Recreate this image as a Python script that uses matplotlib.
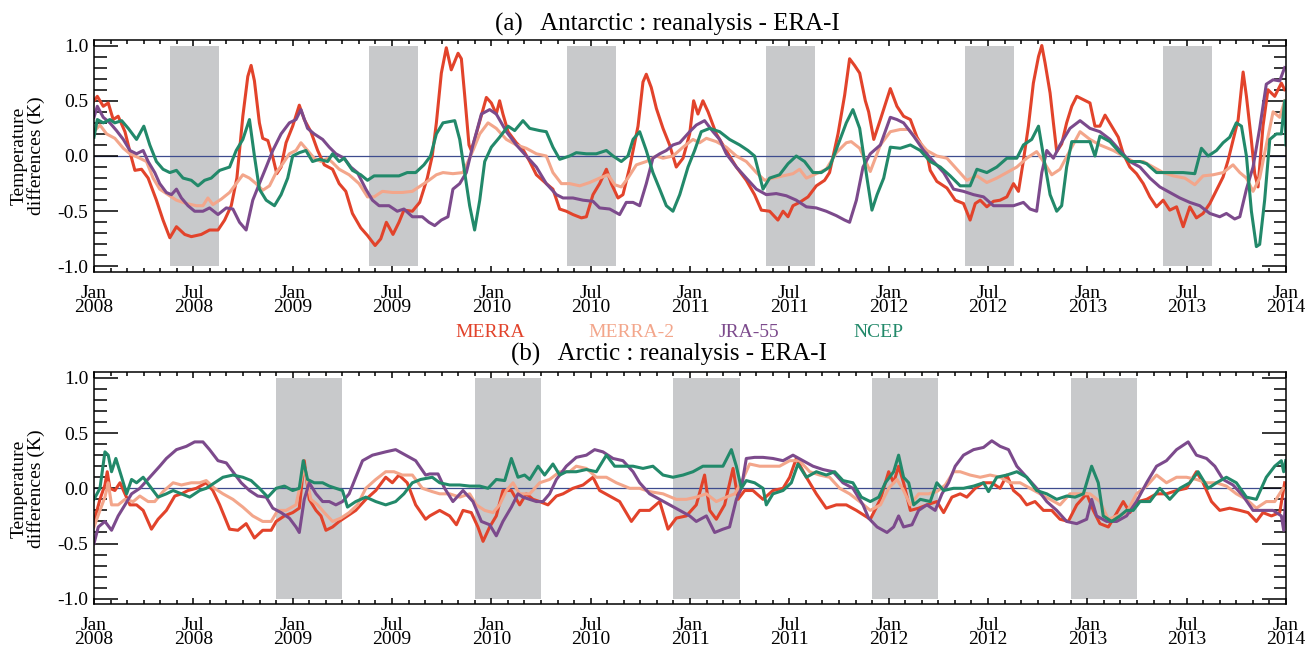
import numpy as np
import matplotlib
matplotlib.use('Agg')
import matplotlib.pyplot as plt
from matplotlib.ticker import MultipleLocator, FixedLocator, FixedFormatter

plt.rcParams['font.family'] = ['Liberation Serif', 'DejaVu Serif']
plt.rcParams['axes.unicode_minus'] = False

# ---------------- data (time in months since Jan 2008) ----------------
# Panel (a) Antarctic
a_merra_m = [0.0, 0.2, 0.56, 0.86, 1.16, 1.46, 1.87, 2.27, 2.47, 2.87, 3.27, 3.77, 4.17, 4.58, 4.98, 5.48, 5.88, 6.48, 6.98, 7.49,
             7.89, 8.29, 8.63, 8.99, 9.29, 9.49, 9.69, 9.99, 10.19, 10.5, 10.8, 11.04, 11.3, 11.6, 12.0, 12.4, 12.7, 13.1, 13.51, 13.91,
             14.41, 14.81, 15.21, 15.61, 16.11, 16.52, 16.98, 17.32, 17.66, 18.06, 18.42, 18.72, 19.23, 19.67, 20.13, 20.43,
             20.68, 20.98, 21.28, 21.58, 21.99, 22.19, 22.39, 22.65, 22.79, 23.09, 23.7, 24.0, 24.3, 24.5, 24.7, 25.01, 25.51, 25.91,
             26.32, 26.72, 27.32, 27.72, 28.13, 28.53, 28.93, 29.44, 29.74, 30.14, 30.54, 30.95, 31.25, 31.65, 31.95, 32.36, 32.86,
             33.16, 33.36, 33.66, 33.97, 34.37, 34.77, 35.17, 35.58, 35.98, 36.22, 36.48, 36.78, 37.09, 37.59, 37.99, 38.39, 38.8,
             39.4, 39.9, 40.31, 40.81, 41.31, 41.62, 41.92, 42.22, 42.62, 43.13, 43.63, 44.13, 44.43, 44.94, 45.34, 45.64, 45.94,
             46.25, 46.59, 46.79, 47.1, 47.5, 48.1, 48.5, 48.9, 49.31, 49.71, 50.31, 50.51, 50.91, 51.52, 52.02, 52.52, 52.92, 53.23,
             53.53, 53.93, 54.33, 54.73, 55.14, 55.54, 55.84, 56.14, 56.44, 56.74, 57.05, 57.25, 57.45, 57.75, 57.95, 58.15, 58.45,
             58.75, 59.06, 59.36, 59.76, 60.16, 60.46, 60.76, 61.07, 61.47, 61.87, 62.17, 62.57, 62.97, 63.38, 63.78, 64.18, 64.58,
             64.98, 65.39, 65.79, 66.19, 66.59, 66.99, 67.4, 67.8, 68.2, 68.5, 68.8, 69.11, 69.41, 69.61, 69.91, 70.11, 70.31, 70.61,
             70.91, 71.32, 71.72, 71.92]
a_merra_v = [0.50, 0.54, 0.45, 0.48, 0.33, 0.36, 0.22, -0.02, -0.13, -0.12, -0.20, -0.40, -0.58, -0.74, -0.64, -0.71, -0.73, -0.71, -0.67, -0.67,
             -0.58, -0.45, -0.20, 0.36, 0.72, 0.82, 0.68, 0.30, 0.16, 0.14, -0.01, -0.16, -0.10, 0.12, 0.27, 0.46, 0.33, 0.22, 0.05, -0.08,
             -0.12, -0.25, -0.32, -0.52, -0.65, -0.72, -0.81, -0.75, -0.60, -0.71, -0.60, -0.49, -0.50, -0.42, -0.20, 0.0,
             0.30, 0.75, 0.98, 0.78, 0.93, 0.88, 0.55, 0.10, 0.05, 0.20, 0.53, 0.48, 0.38, 0.50, 0.38, 0.22, 0.12, 0.06,
             -0.05, -0.17, -0.25, -0.30, -0.48, -0.50, -0.53, -0.56, -0.55, -0.35, -0.25, -0.12, -0.25, -0.38, -0.35, -0.10, 0.27,
             0.67, 0.74, 0.62, 0.43, 0.25, 0.10, -0.10, -0.02, 0.20, 0.50, 0.38, 0.50, 0.40, 0.20, 0.10, 0.00, -0.10,
             -0.22, -0.35, -0.49, -0.50, -0.58, -0.50, -0.55, -0.45, -0.42, -0.37, -0.27, -0.22, -0.15, 0.20, 0.55, 0.88, 0.82,
             0.75, 0.50, 0.40, 0.15, 0.33, 0.61, 0.45, 0.36, 0.33, 0.17, 0.02, -0.13, -0.23, -0.29, -0.40, -0.43, -0.58, -0.43,
             -0.40, -0.46, -0.41, -0.40, -0.37, -0.25, -0.32, -0.04, 0.27, 0.66, 0.90, 1.00, 0.84, 0.57, 0.30, 0.04, 0.11,
             0.30, 0.45, 0.54, 0.51, 0.48, 0.27, 0.27, 0.37, 0.27, 0.17, 0.02, -0.10, -0.16, -0.25, -0.37, -0.46, -0.40,
             -0.49, -0.46, -0.64, -0.46, -0.56, -0.52, -0.43, -0.31, -0.19, -0.04, 0.14, 0.33, 0.76, 0.54, 0.14, -0.16, -0.28, 0.27,
             0.60, 0.54, 0.66, 0.60]

a_merra2_m = [0.0, 0.36, 0.76, 1.26, 1.77, 2.17, 2.77, 3.17, 3.57, 3.97, 4.48, 4.98, 5.58, 6.18, 6.58, 6.88, 7.18, 7.69, 8.19, 8.59,
              8.99, 9.39, 9.79, 10.19, 10.6, 11.0, 11.4, 11.8, 12.2, 12.5, 12.9, 13.3, 13.71, 14.11, 14.41, 14.81, 15.41, 16.01,
              16.52, 16.92, 17.42, 18.02, 18.62, 19.23, 19.73, 20.23,
              20.68, 21.08, 21.68, 22.29, 22.89, 23.3, 23.8, 24.3, 24.91, 25.51, 26.11, 26.72, 27.32, 27.72, 28.23, 28.73, 29.34,
              29.94, 30.54, 31.05, 31.45, 31.85, 32.25, 32.76, 33.36, 33.97, 34.37, 34.97, 35.58, 36.18, 36.58, 36.99, 37.59, 38.19,
              38.8, 39.4, 40.01, 40.51, 41.01, 41.62, 42.22, 42.62, 43.03, 43.63, 44.23, 44.84, 45.44, 45.74, 46.25,
              46.89, 47.5, 48.1, 48.7, 49.21, 49.71, 50.31, 50.91, 51.52, 52.12, 52.72, 53.33, 53.93, 54.53, 55.14, 55.74, 56.34,
              56.94, 57.35, 57.85, 58.35, 58.95, 59.56, 60.16, 60.76, 61.57, 62.17, 62.77, 63.38, 63.98, 64.58, 65.19, 65.89, 66.49,
              66.99, 67.6, 68.2, 68.8, 69.21, 69.61, 70.01, 70.41, 70.81, 71.22, 71.62, 71.92]
a_merra2_v = [0.22, 0.28, 0.20, 0.16, 0.07, 0.02, -0.02, -0.05, -0.20, -0.30, -0.35, -0.40, -0.43, -0.45, -0.45, -0.38, -0.44, -0.39, -0.33, -0.25,
              -0.17, -0.20, -0.25, -0.31, -0.27, -0.15, -0.07, 0.02, 0.05, 0.12, 0.05, -0.02, -0.05, -0.02, -0.06, -0.12, -0.17, -0.25,
              -0.37, -0.37, -0.32, -0.33, -0.33, -0.32, -0.27, -0.22,
              -0.17, -0.15, -0.16, -0.15, 0.05, 0.20, 0.30, 0.25, 0.15, 0.10, 0.07, 0.02, 0.00, -0.15, -0.25, -0.25, -0.27,
              -0.24, -0.20, -0.17, -0.26, -0.28, -0.20, -0.08, -0.05, 0.00, -0.02, 0.00, 0.08, 0.15, 0.12, 0.16, 0.13, 0.08,
              0.00, -0.05, -0.15, -0.22, -0.20, -0.18, -0.16, -0.12, -0.20, -0.16, -0.12, 0.03, 0.12, 0.13, 0.07,
              -0.14, 0.10, 0.22, 0.24, 0.24, 0.15, 0.05, 0.00, -0.02, -0.12, -0.22, -0.18, -0.24, -0.20, -0.15, -0.10, -0.02,
              0.04, -0.05, -0.17, -0.12, 0.05, 0.22, 0.15, 0.10, 0.05, 0.00, -0.05, -0.05, -0.10, -0.15, -0.18, -0.20, -0.26,
              -0.18, -0.17, -0.15, -0.08, -0.15, -0.20, -0.32, -0.20, 0.10, 0.40, 0.35, 0.50]

a_jra_m = [0.0, 0.2, 0.56, 0.96, 1.36, 1.77, 2.17, 2.57, 2.97, 3.27, 3.67, 3.97, 4.37, 4.68, 4.98, 5.28, 5.68, 6.08, 6.58, 6.98,
           7.49, 7.99, 8.39, 8.79, 9.19, 9.59, 9.99, 10.4, 10.8, 11.3, 11.8, 12.2, 12.5, 12.9, 13.3, 13.81, 14.21, 14.61, 15.11,
           15.51, 15.91, 16.42, 16.82, 17.22, 17.82, 18.32, 18.72, 19.23, 19.83, 20.23,
           20.58, 20.98, 21.38, 21.68, 22.09, 22.49, 22.89, 23.4, 23.9, 24.3, 24.91, 25.51, 26.11, 26.72, 27.32, 27.93, 28.33,
           28.93, 29.54, 30.14, 30.54, 31.15, 31.75, 32.15, 32.56, 32.96, 33.36, 33.76, 34.17, 34.57, 34.97, 35.38, 35.98, 36.38,
           36.88, 37.39, 37.79, 38.19, 38.8, 39.4, 40.01, 40.61, 41.21, 41.82, 42.42, 43.03, 43.63, 44.23, 44.84, 45.34, 45.64,
           46.05, 46.45,
           46.89, 47.5, 48.1, 48.5, 48.9, 49.51, 50.11, 50.71, 51.32, 51.92, 52.52, 53.13, 53.73, 54.33, 54.93, 55.54, 56.14,
           56.54, 56.94, 57.25, 57.55, 57.95, 58.35, 58.95, 59.56, 60.16, 60.76, 61.37, 61.97, 62.57, 63.18, 63.78, 64.38, 64.98,
           65.59, 66.19, 66.79, 67.4, 68.0, 68.4, 68.9, 69.21, 69.61, 70.01, 70.41, 70.81, 71.22, 71.62, 71.92]
a_jra_v = [0.35, 0.45, 0.35, 0.30, 0.23, 0.15, 0.05, 0.02, 0.05, -0.05, -0.15, -0.25, -0.33, -0.35, -0.30, -0.38, -0.45, -0.50, -0.50, -0.47,
           -0.53, -0.47, -0.48, -0.60, -0.67, -0.40, -0.25, -0.10, 0.05, 0.20, 0.30, 0.33, 0.42, 0.25, 0.20, 0.15, 0.08, 0.02, -0.02,
           -0.10, -0.15, -0.30, -0.40, -0.45, -0.45, -0.50, -0.48, -0.55, -0.55, -0.60,
           -0.63, -0.58, -0.55, -0.30, -0.25, -0.15, 0.10, 0.38, 0.42, 0.38, 0.22, 0.10, 0.00, -0.10, -0.25, -0.35, -0.38,
           -0.38, -0.40, -0.41, -0.47, -0.48, -0.53, -0.42, -0.42, -0.45, -0.25, -0.02, 0.02, 0.05, 0.10, 0.12, 0.22, 0.28,
           0.32, 0.22, 0.15, 0.02, -0.10, -0.20, -0.30, -0.35, -0.34, -0.36, -0.40, -0.46, -0.47, -0.50, -0.54, -0.58, -0.60,
           -0.40, -0.10,
           0.02, 0.10, 0.35, 0.33, 0.30, 0.18, 0.05, -0.05, -0.15, -0.30, -0.32, -0.35, -0.37, -0.45, -0.45, -0.45, -0.42,
           -0.48, -0.50, -0.15, 0.05, -0.02, 0.10, 0.25, 0.32, 0.25, 0.22, 0.15, 0.05, -0.05, -0.10, -0.20, -0.28, -0.33,
           -0.38, -0.42, -0.45, -0.52, -0.55, -0.52, -0.57, -0.55, -0.30, -0.10, 0.25, 0.65, 0.69, 0.68, 0.80]

a_ncep_m = [0.0, 0.2, 0.56, 0.96, 1.26, 1.67, 2.07, 2.57, 3.01, 3.37, 3.77, 4.17, 4.58, 4.98, 5.38, 5.88, 6.28, 6.68, 7.08, 7.59,
            8.19, 8.59, 8.99, 9.39, 9.69, 9.99, 10.4, 10.9, 11.3, 11.7, 12.0, 12.4, 12.8, 13.2, 13.61, 14.11, 14.41, 14.81, 15.11,
            15.61, 16.11, 16.52, 16.92, 17.42, 17.92, 18.42, 18.92, 19.43, 19.93, 20.33,
            20.68, 21.08, 21.79, 22.09, 22.39, 22.69, 22.99, 23.3, 23.6, 24.0, 24.5, 25.01, 25.41, 25.91, 26.32, 26.92, 27.32,
            27.72, 28.13, 28.73, 29.13, 29.74, 30.34, 30.95, 31.35, 31.85, 32.25, 32.56, 32.96, 33.36, 33.76, 34.17, 34.57, 34.97,
            35.38, 35.88, 36.28, 36.68, 37.19, 37.79, 38.39, 39.0, 39.5, 39.9, 40.41, 40.81, 41.41, 41.92, 42.42, 42.92, 43.43,
            43.93, 44.43, 44.94, 45.44, 45.84, 46.25,
            46.69, 46.99, 47.3, 47.7, 48.1, 48.7, 49.31, 49.91, 50.51, 51.12, 51.72, 52.32, 52.92, 53.33, 53.93, 54.53, 55.14,
            55.74, 56.14, 56.64, 57.05, 57.35, 57.75, 58.15, 58.45, 58.75, 59.06, 59.56, 60.16, 60.46, 60.76, 61.37, 61.97, 62.57,
            63.18, 63.58, 64.18, 64.58, 65.19, 65.79, 66.49, 66.89, 67.3, 67.8, 68.2, 68.6, 69.0, 69.31, 69.61, 69.91, 70.21,
            70.41, 70.71, 71.02, 71.42, 71.72, 71.92, 72.0]
a_ncep_v = [0.17, 0.33, 0.30, 0.33, 0.30, 0.32, 0.25, 0.15, 0.27, 0.10, -0.05, -0.12, -0.15, -0.13, -0.20, -0.22, -0.27, -0.22, -0.20, -0.13,
            -0.10, 0.05, 0.15, 0.33, 0.00, -0.30, -0.40, -0.45, -0.35, -0.20, 0.00, 0.03, 0.05, -0.05, -0.03, -0.05, 0.02, -0.05, -0.02,
            -0.13, -0.17, -0.22, -0.18, -0.18, -0.18, -0.18, -0.15, -0.15, -0.08, 0.00,
            0.20, 0.30, 0.32, 0.15, -0.15, -0.45, -0.67, -0.40, -0.05, 0.08, 0.17, 0.27, 0.23, 0.32, 0.25, 0.23, 0.22,
            0.08, -0.03, 0.00, 0.03, 0.02, 0.02, 0.05, 0.00, -0.05, 0.00, 0.15, 0.22, 0.05, -0.15, -0.30, -0.45, -0.50,
            -0.35, -0.10, 0.05, 0.22, 0.25, 0.22, 0.15, 0.10, 0.05, 0.00, -0.30, -0.20, -0.17, -0.07, 0.00, -0.05, -0.15,
            -0.15, -0.10, 0.10, 0.30, 0.42, 0.25,
            -0.20, -0.49, -0.35, -0.20, 0.08, 0.07, 0.10, 0.05, -0.05, -0.10, -0.18, -0.27, -0.27, -0.12, -0.15, -0.10, -0.02,
            -0.02, 0.10, 0.15, 0.27, 0.00, -0.35, -0.50, -0.45, -0.10, 0.13, 0.13, 0.13, 0.00, 0.18, 0.13, 0.03, -0.05,
            -0.05, -0.07, -0.15, -0.15, -0.15, -0.15, -0.16, 0.07, 0.00, 0.05, 0.12, 0.17, 0.30, 0.27, 0.00, -0.50, -0.82,
            -0.80, -0.40, 0.15, 0.20, 0.20, 0.50, 0.10]

# Panel (b) Arctic
b_merra_m = [0.0, 0.36, 0.66, 0.8, 0.96, 1.26, 1.57, 1.87, 2.17, 2.57, 2.97, 3.47, 3.87, 4.37, 4.88, 5.28, 5.68, 6.18, 6.78, 7.18,
             7.59, 8.19, 8.69, 9.19, 9.69, 10.19, 10.7, 11.0, 11.5, 12.0, 12.4, 12.7, 13.0, 13.41, 13.71, 14.01, 14.41, 14.81, 15.31,
             15.81, 16.42, 17.02, 17.62, 18.02, 18.42, 18.92, 19.43, 20.03,
             20.28, 20.88, 21.48, 21.89, 22.29, 22.79, 23.19, 23.5, 23.9, 24.3, 24.7, 25.21, 25.71, 26.11, 26.52, 26.92, 27.42,
             27.93, 28.33, 28.93, 29.54, 30.14, 30.54, 31.15, 31.75, 32.46, 32.96, 33.56, 34.17, 34.67, 35.17, 35.78, 36.38, 36.88,
             37.19, 37.59, 38.09, 38.6, 38.9, 39.3, 39.8, 40.41, 41.01, 41.62, 42.02, 42.42, 43.03, 43.63, 44.23, 44.84, 45.44,
             46.05,
             46.89, 47.5, 48.0, 48.3, 48.6, 48.9, 49.31, 49.81, 50.31, 50.91, 51.32, 51.82, 52.32, 52.72, 53.23, 53.73, 54.23,
             54.73, 55.14, 55.54, 55.94, 56.34, 56.84, 57.35, 57.85, 58.35, 58.85, 59.36, 59.96, 60.36, 60.76, 61.27, 61.67, 62.17,
             62.57, 63.08, 63.58, 64.18, 64.78, 65.39, 65.99, 66.59, 66.99, 67.5, 68.0, 68.6, 69.21, 69.71, 70.21, 70.61, 71.12,
             71.62, 71.92]
b_merra_v = [-0.30, -0.10, 0.03, 0.15, 0.00, -0.02, 0.05, -0.05, -0.15, -0.15, -0.20, -0.37, -0.28, -0.20, -0.07, -0.05, -0.02, 0.00, 0.05, -0.02,
             -0.15, -0.37, -0.38, -0.32, -0.45, -0.38, -0.38, -0.30, -0.25, -0.22, -0.18, 0.25, -0.10, -0.20, -0.25, -0.38, -0.35, -0.30, -0.25,
             -0.20, -0.10, -0.02, 0.10, 0.05, 0.12, 0.05, -0.15, -0.28,
             -0.25, -0.20, -0.25, -0.33, -0.20, -0.22, -0.35, -0.48, -0.35, -0.25, -0.02, -0.02, -0.15, -0.05, -0.10, -0.12, -0.15,
             -0.07, -0.05, 0.00, 0.03, 0.10, -0.02, -0.07, -0.12, -0.30, -0.20, -0.20, -0.12, -0.37, -0.27, -0.25, -0.15, 0.12,
             -0.20, -0.28, -0.15, 0.18, -0.10, -0.02, -0.02, -0.10, -0.02, 0.00, 0.10, 0.27, 0.10, -0.05, -0.18, -0.15, -0.15,
             -0.20,
             -0.28, -0.10, 0.15, 0.05, 0.20, 0.05, -0.20, -0.18, -0.15, -0.12, -0.22, -0.08, -0.05, -0.08, 0.00, 0.05, 0.05,
             0.00, 0.12, -0.02, -0.07, -0.15, -0.12, -0.20, -0.20, -0.28, -0.30, -0.15, -0.05, -0.20, -0.32, -0.35, -0.25, -0.12,
             -0.22, -0.12, -0.10, -0.05, -0.05, -0.02, 0.00, 0.15, 0.05, -0.12, -0.20, -0.18, -0.20, -0.22, -0.30, -0.22, -0.25,
             -0.22, 0.05]

b_merra2_m = [0.0, 0.36, 0.66, 0.86, 1.06, 1.46, 1.87, 2.37, 2.77, 3.27, 3.67, 4.17, 4.78, 5.28, 5.88, 6.38, 6.78, 7.28, 7.79, 8.39,
              8.99, 9.59, 10.19, 10.7, 11.1, 11.6, 12.2, 12.7, 13.1, 13.51, 13.91, 14.41, 14.91, 15.41, 15.91, 16.42, 17.02, 17.62,
              18.12, 18.62, 19.23, 19.83, 20.43,
              20.88, 21.48, 22.09, 22.69, 23.09, 23.6, 24.1, 24.5, 24.91, 25.31, 25.71, 26.32, 26.92, 27.52, 28.13, 28.73, 29.13,
              29.74, 30.34, 30.95, 31.55, 32.36, 32.96, 33.56, 34.37, 35.17, 35.78, 36.38, 36.99, 37.59, 38.19, 38.7, 39.1, 39.6,
              40.21, 40.81, 41.41, 42.02, 42.62, 43.23, 43.83, 44.43, 45.04, 45.64, 46.25,
              46.89, 47.5, 48.0, 48.5, 48.9, 49.31, 49.81, 50.41, 50.91, 51.42, 51.92, 52.32, 52.92, 53.53, 54.13, 54.73, 55.34,
              55.94, 56.54, 57.15, 57.75, 58.35, 58.95, 59.56, 60.16, 60.76, 61.27, 61.77, 62.37, 62.97, 63.58, 64.18, 64.78, 65.39,
              65.99, 66.59, 67.2, 67.8, 68.4, 69.0, 69.61, 70.21, 70.81, 71.32, 71.82]
b_merra2_v = [-0.35, -0.20, -0.08, 0.05, -0.15, -0.15, -0.10, -0.12, -0.07, -0.12, -0.12, -0.03, 0.05, 0.03, 0.05, 0.05, 0.07, 0.00, -0.05, -0.10,
              -0.17, -0.25, -0.30, -0.30, -0.20, -0.20, -0.15, 0.20, -0.10, -0.15, -0.22, -0.30, -0.27, -0.22, -0.15, 0.00, 0.08, 0.15,
              0.15, 0.12, 0.12, 0.00, -0.03,
              -0.05, -0.05, -0.08, -0.05, -0.15, -0.20, -0.22, -0.15, -0.02, 0.05, -0.05, -0.05, 0.05, 0.08, 0.15, 0.15, 0.20,
              0.18, 0.10, 0.10, 0.05, 0.00, 0.00, -0.03, -0.05, -0.10, -0.10, -0.08, -0.05, -0.12, -0.08, -0.05, 0.05, 0.22,
              0.20, 0.20, 0.20, 0.25, 0.25, 0.15, 0.12, 0.10, 0.00, -0.05, -0.12,
              -0.20, -0.15, 0.00, 0.08, -0.02, -0.15, -0.05, -0.05, -0.03, 0.03, 0.15, 0.15, 0.12, 0.10, 0.12, 0.10, 0.05,
              0.05, 0.00, -0.05, -0.10, -0.15, -0.05, -0.05, -0.05, -0.12, -0.28, -0.25, -0.22, -0.05, 0.02, 0.12, 0.05, 0.10,
              0.10, 0.08, 0.05, 0.05, 0.02, -0.05, -0.10, -0.18, -0.12, -0.12, 0.00]

b_jra_m = [0.0, 0.26, 0.66, 1.06, 1.46, 1.87, 2.27, 2.77, 3.37, 3.97, 4.37, 4.98, 5.58, 6.08, 6.58, 6.98, 7.49, 7.99, 8.39, 8.89,
           9.39, 9.89, 10.4, 10.8, 11.3, 11.8, 12.2, 12.4, 12.7, 13.0, 13.41, 13.81, 14.21, 14.61, 15.01, 15.41, 15.81, 16.22,
           16.82, 17.62, 18.22, 18.82, 19.43, 20.03,
           20.28, 20.78, 21.18, 21.68, 22.29, 22.89, 23.4, 23.9, 24.3, 24.7, 25.21, 25.61, 25.91, 26.32, 26.72, 27.12, 27.52,
           27.93, 28.53, 29.13, 29.74, 30.24, 30.74, 31.35, 31.95, 32.56, 32.96, 33.56, 34.17, 34.77, 35.38, 35.98, 36.38, 36.99,
           37.49, 37.99, 38.39, 38.8, 39.1, 39.4, 39.9, 40.41, 41.01, 41.62, 42.22, 42.82, 43.43, 44.03, 44.64, 45.24, 45.84,
           46.45,
           46.79, 47.3, 47.9, 48.3, 48.6, 48.9, 49.41, 49.81, 50.31, 50.81, 51.22, 51.62, 52.02, 52.52, 53.13, 53.73, 54.23,
           54.73, 55.24, 55.74, 56.34, 56.94, 57.55, 58.15, 58.75, 59.36, 59.96, 60.26, 60.56, 61.17, 61.77, 62.37, 62.97, 63.58,
           64.18, 64.78, 65.39, 66.09, 66.59, 67.2, 67.7, 68.2, 68.8, 69.41, 70.01, 70.61, 71.22, 71.72, 71.86, 71.98]
b_jra_v = [-0.50, -0.35, -0.30, -0.38, -0.25, -0.15, -0.05, 0.00, 0.10, 0.20, 0.27, 0.35, 0.38, 0.42, 0.42, 0.35, 0.25, 0.23, 0.15, 0.05,
           -0.02, -0.07, -0.08, -0.18, -0.22, -0.27, -0.35, -0.40, -0.10, 0.05, -0.05, -0.12, -0.12, -0.15, -0.12, -0.05, 0.10, 0.25,
           0.30, 0.33, 0.35, 0.30, 0.25, 0.12,
           0.13, 0.13, 0.00, -0.12, -0.02, -0.12, -0.30, -0.33, -0.43, -0.30, -0.17, -0.05, -0.08, -0.10, -0.12, -0.12, -0.05,
           0.08, 0.20, 0.28, 0.30, 0.35, 0.33, 0.27, 0.25, 0.15, 0.05, -0.05, -0.10, -0.15, -0.20, -0.25, -0.30, -0.25,
           -0.40, -0.37, -0.35, -0.10, 0.00, 0.27, 0.28, 0.28, 0.27, 0.25, 0.30, 0.25, 0.20, 0.17, 0.15, 0.05, 0.00,
           -0.15,
           -0.27, -0.35, -0.40, -0.35, -0.25, -0.35, -0.33, -0.20, -0.15, -0.20, -0.05, 0.05, 0.20, 0.30, 0.35, 0.37, 0.43,
           0.38, 0.35, 0.20, 0.10, 0.00, -0.12, -0.20, -0.30, -0.32, -0.28, -0.10, -0.25, -0.30, -0.30, -0.25, -0.12, 0.05,
           0.20, 0.25, 0.35, 0.42, 0.30, 0.27, 0.20, 0.08, 0.03, -0.07, -0.20, -0.20, -0.20, -0.25, -0.38, -0.10]

b_ncep_m = [0.0, 0.36, 0.66, 0.86, 1.06, 1.32, 1.67, 1.97, 2.27, 2.57, 2.97, 3.37, 3.87, 4.37, 4.78, 5.28, 5.78, 6.38, 6.78, 7.28,
            7.79, 8.39, 8.99, 9.49, 9.99, 10.5, 11.0, 11.5, 12.0, 12.4, 12.64, 12.9, 13.3, 13.81, 14.21, 14.61, 15.01, 15.31,
            15.81, 16.42, 17.02, 17.62, 18.22, 18.72, 19.23, 19.73, 20.43,
            20.88, 21.48, 22.09, 22.69, 23.3, 23.8, 24.3, 24.81, 25.21, 25.61, 26.01, 26.32, 26.82, 27.22, 27.72, 28.13, 28.53,
            29.13, 29.74, 30.34, 30.95, 31.45, 31.95, 32.56, 33.16, 33.76, 34.37, 34.97, 35.58, 36.18, 36.78, 37.39, 37.99, 38.5,
            38.8, 39.1, 39.4, 39.9, 40.41, 40.61, 41.01, 41.62, 42.12, 42.52, 43.03, 43.63, 44.23, 44.74, 45.24, 45.84, 46.35,
            46.89, 47.4, 47.8, 48.3, 48.6, 48.9, 49.21, 49.51, 49.91, 50.51, 50.91, 51.32, 51.92, 52.52, 53.13, 53.73, 54.03,
            54.53, 55.14, 55.74, 56.34, 56.94, 57.55, 58.15, 58.75, 59.26, 59.76, 60.26, 60.66, 60.96, 61.47, 61.97, 62.37, 62.77,
            63.18, 63.78, 64.38, 64.98, 65.59, 66.19, 66.69, 67.3, 67.8, 68.4, 69.0, 69.61, 70.21, 70.81, 71.32, 71.72, 71.86,
            71.98]
b_ncep_v = [-0.10, 0.00, 0.33, 0.30, 0.15, 0.27, 0.10, -0.05, 0.08, 0.05, 0.10, 0.02, -0.08, -0.05, -0.02, -0.05, -0.08, -0.02, 0.00, 0.05,
            0.10, 0.12, 0.10, 0.07, 0.00, -0.08, 0.00, 0.02, -0.02, 0.00, 0.25, 0.08, 0.05, 0.05, 0.02, 0.00, -0.02, -0.17,
            -0.12, -0.08, -0.12, -0.15, -0.12, -0.05, 0.05, 0.08, 0.10,
            0.05, 0.03, 0.03, 0.02, 0.02, 0.00, 0.08, 0.07, 0.27, 0.10, 0.12, 0.08, 0.20, 0.12, 0.22, 0.12, 0.15,
            0.15, 0.17, 0.15, 0.30, 0.20, 0.20, 0.20, 0.18, 0.20, 0.12, 0.10, 0.12, 0.15, 0.20, 0.20, 0.20, 0.35,
            0.20, 0.00, 0.07, 0.05, 0.00, -0.15, -0.05, -0.02, 0.05, 0.22, 0.10, 0.15, 0.12, 0.15, 0.07, 0.05, -0.08,
            -0.12, -0.08, 0.05, 0.15, 0.30, 0.10, 0.05, -0.15, -0.10, -0.12, 0.05, -0.02, 0.00, 0.00, 0.02, 0.05, -0.03,
            0.10, 0.12, 0.15, 0.10, -0.02, -0.05, -0.10, -0.07, -0.08, -0.05, 0.20, 0.05, -0.25, -0.30, -0.25, -0.20, -0.20,
            -0.12, -0.12, 0.00, -0.10, 0.00, 0.05, 0.15, 0.00, 0.05, 0.10, 0.05, -0.08, -0.10, 0.10, 0.20, 0.25, 0.15,
            0.25]

# Shaded seasons (months since Jan 2008)
shade_a_start = [4.6, 16.6, 28.6, 40.6, 52.6, 64.6]
shade_a_end = [7.55, 19.55, 31.55, 43.55, 55.55, 67.55]
shade_b_start = [11.0, 23.0, 35.0, 47.0, 59.0]
shade_b_end = [15.0, 27.0, 39.0, 51.0, 63.0]

tick_months = list(range(0, 73, 6))
tick_labels = ['Jan\n2008', 'Jul\n2008', 'Jan\n2009', 'Jul\n2009', 'Jan\n2010', 'Jul\n2010', 'Jan\n2011',
               'Jul\n2011', 'Jan\n2012', 'Jul\n2012', 'Jan\n2013', 'Jul\n2013', 'Jan\n2014']

series_names = ['MERRA', 'MERRA-2', 'JRA-55', 'NCEP']
colors = ['#E2432B', '#F3A68B', '#7C4A8C', '#22896A']

# ---------------- figure ----------------
fig = plt.figure(figsize=(13.16, 6.48), dpi=100)
W, H = 1316, 648
ax_a = fig.add_axes([94 / W, 1 - 272 / H, 1192 / W, 232 / H])
ax_b = fig.add_axes([94 / W, 1 - 604.3 / H, 1192 / W, 232 / H])

panels = [
    (ax_a, [(a_merra_m, a_merra_v), (a_merra2_m, a_merra2_v), (a_jra_m, a_jra_v), (a_ncep_m, a_ncep_v)],
     shade_a_start, shade_a_end),
    (ax_b, [(b_merra_m, b_merra_v), (b_merra2_m, b_merra2_v), (b_jra_m, b_jra_v), (b_ncep_m, b_ncep_v)],
     shade_b_start, shade_b_end),
]

for ax, data, s_start, s_end in panels:
    for s, e in zip(s_start, s_end):
        ax.fill_between([s, e], -1.0, 1.0, color='#C8C9CB', lw=0, zorder=0)
    ax.axhline(0.0, color='#3E4C8E', lw=0.9, zorder=1)
    for (m, v), c in zip(data, colors):
        ax.plot(m, v, color=c, lw=2.2, zorder=2, solid_joinstyle='round')
    ax.set_xlim(0, 72)
    ax.set_ylim(-1.05, 1.05)
    ax.xaxis.set_major_locator(FixedLocator(tick_months))
    ax.xaxis.set_major_formatter(FixedFormatter(tick_labels))
    ax.xaxis.set_minor_locator(MultipleLocator(1))
    ax.yaxis.set_major_locator(FixedLocator([-1.0, -0.5, 0.0, 0.5, 1.0]))
    ax.yaxis.set_major_formatter(FixedFormatter(['-1.0', '-0.5', '0.0', '0.5', '1.0']))
    ax.yaxis.set_minor_locator(MultipleLocator(0.1))
    ax.tick_params(axis='both', which='both', direction='in', top=True, right=True, width=1.1, colors='black')
    ax.tick_params(axis='y', which='major', length=17, pad=4, labelsize=14)
    ax.tick_params(axis='y', which='minor', length=9)
    ax.tick_params(axis='x', which='major', length=4.5, pad=9, labelsize=14)
    ax.tick_params(axis='x', which='minor', length=3)
    for lab in ax.get_xticklabels():
        lab.set_linespacing(0.82)
    for sp in ax.spines.values():
        sp.set_linewidth(1.1)

# Titles
fig.text(667 / W, 1 - 24 / H, '(a)   Antarctic : reanalysis - ERA-I', ha='center', va='center', fontsize=18)
fig.text(669 / W, 1 - 354 / H, '(b)   Arctic : reanalysis - ERA-I', ha='center', va='center', fontsize=18)

# Legend as coloured text
legend_x = [455, 588, 719, 853]
for name, c, x in zip(series_names, colors, legend_x):
    fig.text(x / W, 1 - 332 / H, name, color=c, ha='left', va='center', fontsize=14)

# Y labels
for yc in [156, 488.5]:
    fig.text(28 / W, 1 - yc / H, 'Temperature\ndifferences (K)', rotation=90, ha='center', va='center',
             fontsize=14, linespacing=1.0)

fig.savefig('out.png', dpi=100)
